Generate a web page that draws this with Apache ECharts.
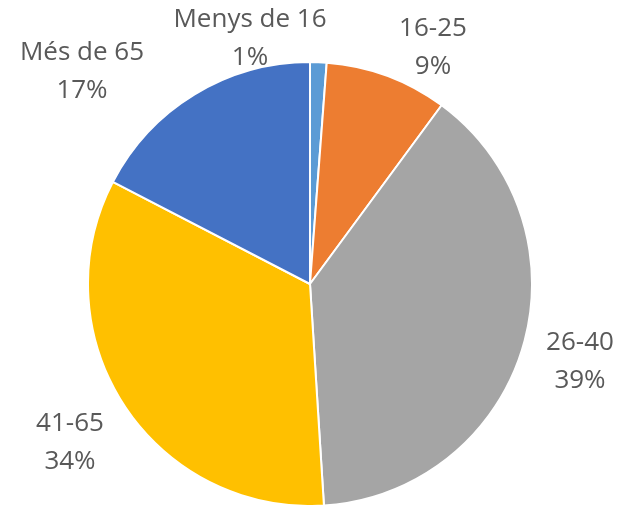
<!DOCTYPE html>
<html>
<head>
<meta charset="utf-8">
<script src="https://cdn.jsdelivr.net/npm/echarts@6/dist/echarts.min.js"></script>
<style>
  html, body { margin: 0; padding: 0; background: #fff; }
  #chart { width: 625px; height: 505px; }
</style>
</head>
<body>
<div id="chart"></div>
<script>
// age groups, clockwise from 12 o'clock
const categories = ['Menys de 16', '16-25', '26-40', '41-65', 'Més de 65']
const values = [1.2, 8.9, 38.9, 33.6, 17.4]
const colors = ['#5B9BD5', '#ED7D31', '#A5A5A5', '#FFC000', '#4472C4']

// where Excel put each label (centre of the two-line block)
const labelSpots = [[250, 39], [433, 48], [580, 362], [70, 443], [82, 72]]

const chart = echarts.init(document.getElementById('chart'))

chart.setOption({
  animation: false,
  series: [{
    type: 'pie',
    center: [310, 284],
    radius: 222,
    startAngle: 90,
    clockwise: true,
    avoidLabelOverlap: false,
    itemStyle: {
      borderColor: '#fff',
      borderWidth: 2
    },
    label: {
      show: true,
      position: 'outside',
      color: '#595959',
      fontFamily: 'Open Sans',
      fontSize: 26,
      lineHeight: 38,
      align: 'center',
      formatter: p => p.name + '\n' + Math.round(p.percent) + '%'
    },
    labelLine: { show: false },
    labelLayout: p => ({
      x: labelSpots[p.dataIndex][0],
      y: labelSpots[p.dataIndex][1],
      align: 'center',
      verticalAlign: 'middle'
    }),
    data: categories.map((name, i) => ({
      name: name,
      value: values[i],
      itemStyle: { color: colors[i] }
    }))
  }]
})
</script>
</body>
</html>
